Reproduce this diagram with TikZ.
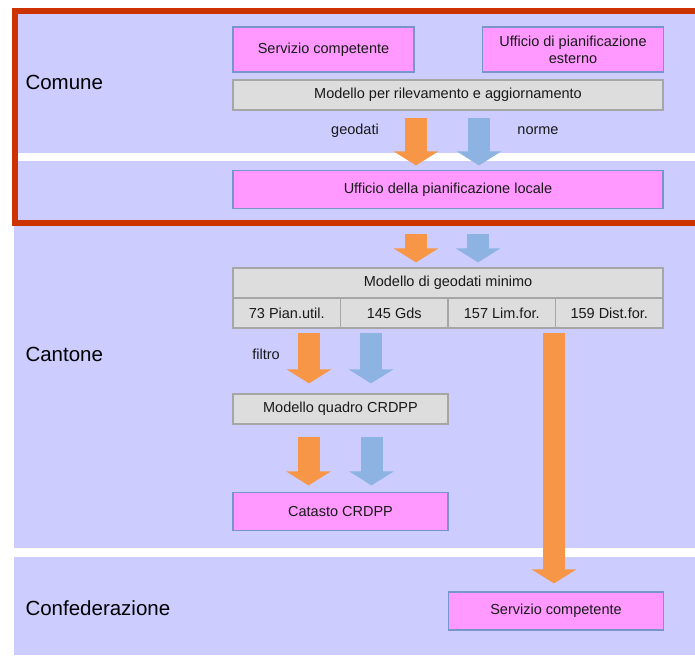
\documentclass[tikz,border=0pt]{standalone}
\usepackage{fontspec}
\setmainfont{Liberation Sans}
\usetikzlibrary{arrows.meta}
\definecolor{lanecol}{HTML}{CCCCFF}
\definecolor{pinkfill}{HTML}{FF99FF}
\definecolor{pinkline}{HTML}{7896CC}
\definecolor{grayfill}{HTML}{DDDDDD}
\definecolor{grayline}{HTML}{A6A6A6}
\definecolor{geocol}{HTML}{F79646}
\definecolor{normcol}{HTML}{8DB3E2}
\definecolor{framecol}{HTML}{CC3300}
\tikzset{
  box/.style={line width=1.2pt,inner sep=0pt,align=center,text=black!90,font=\fontsize{14.5}{17}\selectfont},
  pinkbox/.style={box,draw=pinkline,fill=pinkfill},
  graybox/.style={box,draw=grayline,fill=grayfill},
  level/.style={anchor=west,font=\fontsize{20.5}{24}\selectfont},
  note/.style={text=black!90,font=\fontsize{14.5}{17}\selectfont},
  flow/.style={line width=22pt,-{Triangle[width=44pt,length=14pt]}},
}
\begin{document}
\begin{tikzpicture}[x=1pt,y=-1pt]
\useasboundingbox (0,0) rectangle (695,655);
\clip (0,0) rectangle (695,655);
%\draw[very thin,color=gray,step=50] (0,0) grid (695,655);
\fill[lanecol] (14,14) rectangle (695,153);
\fill[lanecol] (14,161) rectangle (695,548);
\fill[lanecol] (14,557) rectangle (695,655);
\draw[framecol,line width=6pt] (700,11) -- (14.5,11) -- (14.5,222.5) -- (700,222.5);
\node[level] (comune) at (22,82) {Comune};
\node[level] (cantone) at (22,354) {Cantone};
\node[level] (confed) at (22,608) {Confederazione};
\node[pinkbox,minimum width=181pt,minimum height=45pt] (srvcom) at (323.5,49.5) {Servizio competente};
\node[pinkbox,minimum width=181pt,minimum height=45pt] (uffest) at (573,49.5) {Ufficio di pianificazione\\esterno};
\node[graybox,minimum width=430pt,minimum height=30pt] (modril) at (448,95) {Modello per rilevamento e aggiornamento};
\node[pinkbox,minimum width=430pt,minimum height=38pt] (uffloc) at (448,189.5) {Ufficio della pianificazione locale};
\node[graybox,minimum width=430pt,minimum height=30pt] (modmin) at (448,283) {Modello di geodati minimo};
\foreach \lab [count=\i] in {73 Pian.util.,145 Gds,157 Lim.for.,159 Dist.for.}
  \node[graybox,minimum width=107.5pt,minimum height=30pt] (c\i) at ({233+107.5*(\i-0.5)},313) {\lab};
\node[graybox,minimum width=215pt,minimum height=30pt] (modqua) at (340.5,409) {Modello quadro CRDPP};
\node[pinkbox,minimum width=215pt,minimum height=38pt] (catasto) at (340.5,511.5) {Catasto CRDPP};
\node[pinkbox,minimum width=215pt,minimum height=38pt] (srvconf) at (556,611) {Servizio competente};
\node[note] (geodati) at (355,131) {geodati};
\node[note] (norme) at (538,131) {norme};
\node[note] (filtro) at (266,354) {filtro};
% frecce
\draw[flow,geocol] ([xshift=-32pt,yshift=-7pt]modril.south) -- ([xshift=-32pt,yshift=4.5pt]uffloc.north);
\draw[flow,normcol] ([xshift=31pt,yshift=-7pt]modril.south) -- ([xshift=31pt,yshift=4.5pt]uffloc.north);
\draw[flow,geocol] ([xshift=-32pt,yshift=-24.5pt]uffloc.south) -- ([xshift=-32pt,yshift=5pt]modmin.north);
\draw[flow,normcol] ([xshift=30pt,yshift=-24.5pt]uffloc.south) -- ([xshift=30pt,yshift=5pt]modmin.north);
\draw[flow,geocol] ([xshift=-31.5pt,yshift=60pt]modqua.north) -- ([xshift=-31.5pt,yshift=10pt]modqua.north);
\draw[flow,normcol] ([xshift=30.5pt,yshift=60pt]modqua.north) -- ([xshift=30.5pt,yshift=10pt]modqua.north);
\draw[flow,geocol] ([xshift=-2pt,yshift=258pt]srvconf.north) -- ([xshift=-2pt,yshift=8pt]srvconf.north);
\draw[flow,geocol] ([xshift=-32pt,yshift=-12pt]modqua.south) -- ([xshift=-32pt,yshift=6.5pt]catasto.north);
\draw[flow,normcol] ([xshift=31pt,yshift=-12pt]modqua.south) -- ([xshift=31pt,yshift=6.5pt]catasto.north);
\end{tikzpicture}
\end{document}
